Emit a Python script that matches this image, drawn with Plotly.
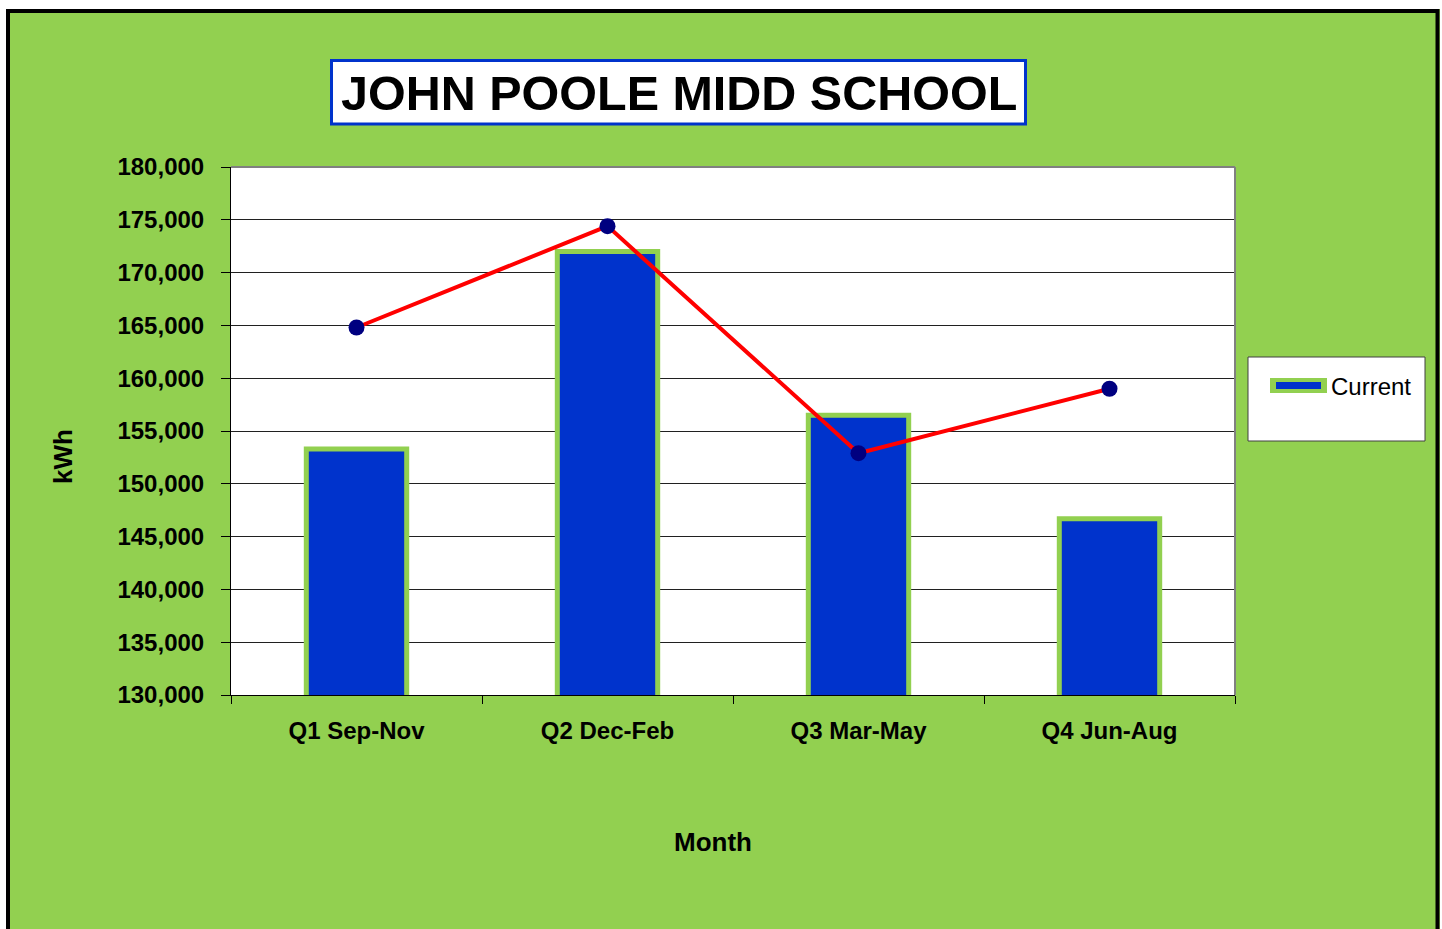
import plotly.graph_objects as go

# data
quarters = ["Q1 Sep-Nov", "Q2 Dec-Feb", "Q3 Mar-May", "Q4 Jun-Aug"]
current_kwh = [153300, 172000, 156500, 146700]
previous_kwh = [164800, 174400, 152900, 159000]
y_min, y_max = 130000, 180000

GREEN = "#92D050"
BLUE = "#0033CC"
ARIAL = "Liberation Sans, Arial"

# page size and plot area in pixels
W, H = 1442, 929
L, R, T, B = 231, 1235, 167, 695


def px(x):
    return (x - L) / (R - L)


def py(y):
    return (B - y) / (B - T)


fig = go.Figure()

fig.add_trace(go.Bar(
    x=quarters, y=current_kwh, name="Current", width=0.4,
    marker=dict(color=BLUE, line=dict(color=GREEN, width=5)),
    showlegend=False,
))
fig.add_trace(go.Scatter(
    x=quarters, y=previous_kwh, name="Previous", mode="lines+markers",
    line=dict(color="#FF0000", width=4),
    marker=dict(color="#000080", size=16),
    showlegend=False,
))

shapes = [
    # white strips outside the outer frame
    dict(type="rect", xref="paper", yref="paper", x0=px(-5), x1=px(W + 5), y0=py(9), y1=py(-5),
         fillcolor="white", line=dict(width=0)),
    dict(type="rect", xref="paper", yref="paper", x0=px(-5), x1=px(6), y0=py(H + 5), y1=py(-5),
         fillcolor="white", line=dict(width=0)),
    dict(type="rect", xref="paper", yref="paper", x0=px(1440), x1=px(W + 5), y0=py(H + 5), y1=py(-5),
         fillcolor="white", line=dict(width=0)),
    # outer black frame
    dict(type="rect", xref="paper", yref="paper", x0=px(8), x1=px(1437.5), y0=py(H + 20), y1=py(11),
         line=dict(color="black", width=4)),
    # plot area top/right border
    dict(type="line", xref="paper", yref="paper", x0=0, x1=1, y0=1, y1=1,
         line=dict(color="#808080", width=2)),
    dict(type="line", xref="paper", yref="paper", x0=1, x1=1, y0=0, y1=1,
         line=dict(color="#808080", width=2)),
    # title box
    dict(type="rect", xref="paper", yref="paper", x0=px(331.5), x1=px(1025.5), y0=py(124), y1=py(60.5),
         fillcolor="white", line=dict(color=BLUE, width=3)),
    # legend box
    dict(type="rect", xref="paper", yref="paper", x0=px(1248), x1=px(1425), y0=py(441), y1=py(357),
         fillcolor="white", line=dict(color="#404040", width=1)),
    dict(type="rect", xref="paper", yref="paper", x0=px(1270), x1=px(1327), y0=py(393), y1=py(378),
         fillcolor=GREEN, line=dict(width=0)),
    dict(type="rect", xref="paper", yref="paper", x0=px(1276), x1=px(1321), y0=py(389), y1=py(382),
         fillcolor=BLUE, line=dict(width=0)),
]

annotations = [
    dict(text="<b>JOHN POOLE MIDD SCHOOL</b>", xref="paper", yref="paper",
         x=px(678.5), y=py(93), xanchor="center", yanchor="middle", showarrow=False,
         font=dict(family=ARIAL, size=48.5, color="black")),
    dict(text="Current", xref="paper", yref="paper",
         x=px(1329), y=py(386), xanchor="left", yanchor="middle", showarrow=False,
         font=dict(family=ARIAL, size=24, color="black")),
    dict(text="<b>Month</b>", xref="paper", yref="paper",
         x=px(713), y=py(842), xanchor="center", yanchor="middle", showarrow=False,
         font=dict(family=ARIAL, size=26, color="black")),
    dict(text="<b>kWh</b>", xref="paper", yref="paper", textangle=-90,
         x=px(63), y=py(457), xanchor="center", yanchor="middle", showarrow=False,
         font=dict(family=ARIAL, size=26, color="black")),
]

fig.update_layout(
    width=W, height=H,
    margin=dict(l=L, r=W - R, t=T, b=H - B),
    paper_bgcolor=GREEN,
    plot_bgcolor="white",
    shapes=shapes,
    annotations=annotations,
    showlegend=False,
)
fig.update_xaxes(
    type="category", tickson="boundaries", ticks="outside", ticklen=8, tickcolor="black",
    showline=True, linecolor="black", linewidth=1, showgrid=False,
    tickfont=dict(family=ARIAL, size=24, color="black", weight="bold"), ticklabelstandoff=14,
)
fig.update_yaxes(
    range=[y_min, y_max], dtick=5000, tickformat=",", ticks="outside", ticklen=9,
    tickcolor="black", showline=True, linecolor="black", linewidth=1,
    showgrid=True, gridcolor="#202020", gridwidth=1, zeroline=False,
    tickfont=dict(family=ARIAL, size=24, color="black", weight="bold"), ticklabelstandoff=12,
)

# drop the default body margin so the figure fills the window exactly
fig.write_html(
    "out.html",
    config={"displayModeBar": False},
    post_script="document.body.style.margin='0';document.body.style.overflow='hidden';",
)
